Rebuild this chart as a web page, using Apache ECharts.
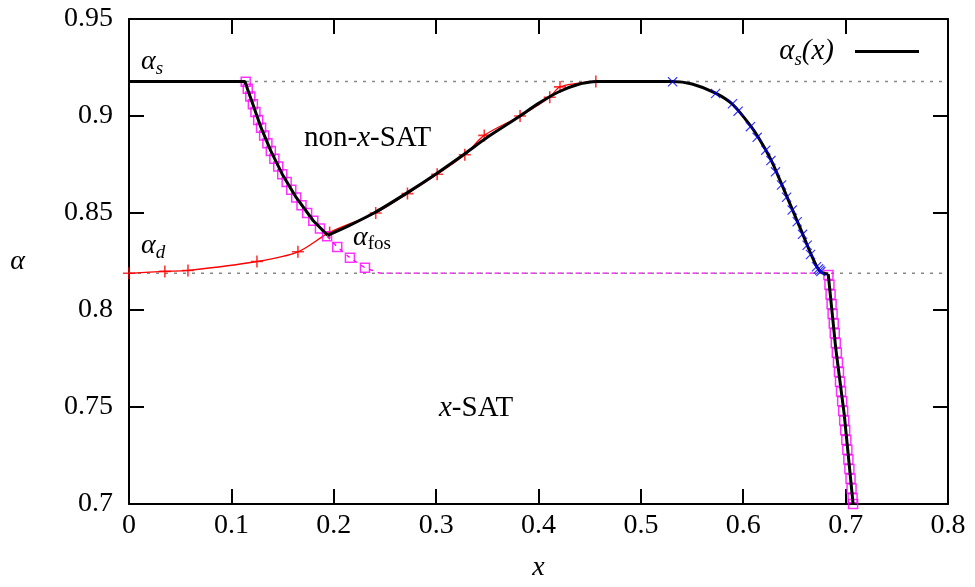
<!DOCTYPE html>
<html>
<head>
<meta charset="utf-8">
<script src="https://cdn.jsdelivr.net/npm/echarts@6/dist/echarts.min.js"></script>
<style>html,body{margin:0;padding:0;background:#fff}#c{width:975px;height:587px}</style>
</head>
<body>
<div id="c"></div>
<script>
// ---- data ----
const alphaS = 0.9178;   // alpha_s
const alphaD = 0.8189;   // alpha_d
const xTicks = [0, 0.1, 0.2, 0.3, 0.4, 0.5, 0.6, 0.7, 0.8];
const yTicks = [0.7, 0.75, 0.8, 0.85, 0.9, 0.95];

// alpha_s(x) black curve, in four pieces
const black1X = [0, 0.1133, 0.1160, 0.1210, 0.1290, 0.1385, 0.1497, 0.1633, 0.1800, 0.1940];
const black1Y = [0.9178, 0.9178, 0.9135, 0.9060, 0.8940, 0.8820, 0.8700, 0.8580, 0.8460, 0.8385];
const black2X = [0.1940, 0.215, 0.241, 0.272, 0.301, 0.328, 0.350, 0.382, 0.400, 0.420, 0.440, 0.456];
const black2Y = [0.8385, 0.8435, 0.8505, 0.8605, 0.8705, 0.8805, 0.8890, 0.9000, 0.9065, 0.9125, 0.9165, 0.9178];
const black3X = [0.456, 0.531, 0.550, 0.573, 0.590, 0.607, 0.617, 0.627, 0.637, 0.647, 0.657, 0.666, 0.672, 0.677, 0.683];
const black3Y = [0.9178, 0.9178, 0.9165, 0.9118, 0.9058, 0.8950, 0.8870, 0.8775, 0.8655, 0.8530, 0.8405, 0.8290, 0.8222, 0.8192, 0.8185];
const black4X = [0.683, 0.6904, 0.6986, 0.7073];
const black4Y = [0.8185, 0.7800, 0.7463, 0.7000];

// red curve (alpha_d branch) and its + markers
const redX = [0, 0.035, 0.0576, 0.125, 0.165, 0.196, 0.241, 0.272, 0.301, 0.328, 0.347, 0.382, 0.411, 0.421, 0.456];
const redY = [0.8189, 0.8199, 0.8204, 0.8250, 0.8300, 0.8400, 0.8500, 0.8600, 0.8700, 0.8800, 0.8900, 0.9000, 0.9097, 0.9150, 0.9178];

// blue x markers
const blueX = [0.531, 0.573, 0.5895, 0.595, 0.607, 0.6136, 0.622, 0.627, 0.6315, 0.6374, 0.6423, 0.6478, 0.6527, 0.6579, 0.6624, 0.6657, 0.6716, 0.6735, 0.6748, 0.6758];
const blueY = [0.9176, 0.9116, 0.9063, 0.9025, 0.8945, 0.8890, 0.8824, 0.8770, 0.8712, 0.8644, 0.8581, 0.8515, 0.8455, 0.8390, 0.8334, 0.8286, 0.8223, 0.8212, 0.8205, 0.8198];

// magenta squares (alpha_fos)
const sqX = [0.1140, 0.1160, 0.1185, 0.1210, 0.1235, 0.1262, 0.1290, 0.1320, 0.1352, 0.1385, 0.1420, 0.1458, 0.1497, 0.1540, 0.1585, 0.1633, 0.1685, 0.1740, 0.1800, 0.1865, 0.1935, 0.2034, 0.2158, 0.2305,
  0.6832, 0.6842, 0.6853, 0.6863, 0.6873, 0.6884, 0.6894, 0.6904, 0.6914, 0.6925, 0.6935, 0.6945, 0.6955, 0.6966, 0.6976, 0.6986, 0.6996, 0.7007, 0.7017, 0.7027, 0.7037, 0.7048, 0.7058, 0.7068, 0.7073];
const sqY = [0.9177, 0.9140, 0.9100, 0.9060, 0.9020, 0.8980, 0.8940, 0.8900, 0.8860, 0.8820, 0.8780, 0.8740, 0.8700, 0.8660, 0.8620, 0.8580, 0.8540, 0.8500, 0.8460, 0.8420, 0.8380, 0.8325, 0.8269, 0.8218,
  0.8180, 0.8130, 0.8080, 0.8030, 0.7980, 0.7930, 0.7880, 0.7830, 0.7780, 0.7730, 0.7680, 0.7630, 0.7580, 0.7530, 0.7480, 0.7430, 0.7380, 0.7330, 0.7280, 0.7230, 0.7180, 0.7130, 0.7080, 0.7030, 0.7000];
// magenta dashed connector
const fosLineX = [0.1935, 0.2034, 0.2158, 0.2305, 0.2450, 0.6800, 0.6832];
const fosLineY = [0.8380, 0.8325, 0.8269, 0.8218, 0.8190, 0.8190, 0.8180];

// ---- chart ----
const zip = (a, b) => a.map((v, i) => [v, b[i]]);
const plus = 'path://M4.35,0H5.65V10H4.35Z M0,4.35H10V5.65H0Z';
const cross = 'path://M0,0.8L0.8,0L10,9.2L9.2,10Z M9.2,0L10,0.8L0.8,10L0,9.2Z';
const fmt = v => String(Math.round(v * 100) / 100);
const F = 'Liberation Serif';

const chart = echarts.init(document.getElementById('c'), null, {renderer: 'canvas'});
const axisLine = {show: true, onZero: false, lineStyle: {color: '#000', width: 2}};
const axisTick = {show: true, inside: true, length: 15, lineStyle: {color: '#000', width: 2}};
const blackSeries = (xs, ys, smooth) => ({
  name: 'alphas', type: 'line', data: zip(xs, ys), symbol: 'none', smooth: smooth, z: 5,
  itemStyle: {color: '#000'}, lineStyle: {color: '#000', width: 3}
});
chart.setOption({
  animation: false,
  backgroundColor: '#fff',
  grid: {left: 129, right: 27, top: 19, bottom: 80, containLabel: false},
  xAxis: [
    {type: 'value', min: xTicks[0], max: xTicks[xTicks.length - 1], interval: 0.1, position: 'bottom',
     axisLine, axisTick, splitLine: {show: false},
     axisLabel: {formatter: fmt, color: '#000', fontFamily: F, fontSize: 28, margin: 8},
     name: 'x', nameLocation: 'middle', nameGap: 50,
     nameTextStyle: {fontFamily: F, fontStyle: 'italic', fontSize: 28, color: '#000'}},
    {type: 'value', min: xTicks[0], max: xTicks[xTicks.length - 1], interval: 0.1, position: 'top',
     axisLine, axisTick, axisLabel: {show: false}, splitLine: {show: false}}
  ],
  yAxis: [
    {type: 'value', min: yTicks[0], max: yTicks[yTicks.length - 1], interval: 0.05, position: 'left',
     axisLine, axisTick, splitLine: {show: false},
     axisLabel: {formatter: fmt, color: '#000', fontFamily: F, fontSize: 28, margin: 16},
     name: 'α', nameLocation: 'middle', nameGap: 104, nameRotate: 0,
     nameTextStyle: {fontFamily: F, fontStyle: 'italic', fontSize: 28, color: '#000', padding: [0, 0, 10, 0]}},
    {type: 'value', min: yTicks[0], max: yTicks[yTicks.length - 1], interval: 0.05, position: 'right',
     axisLine, axisTick, axisLabel: {show: false}, splitLine: {show: false}}
  ],
  legend: {
    right: 51, top: 32, align: 'right', itemWidth: 64, itemHeight: 3, itemGap: 0,
    data: [{name: 'alphas', icon: 'path://M0,0H64V3H0Z'}],
    itemStyle: {color: '#000'},
    formatter: () => '{a|α}{s|s}{p|(x)}',
    textStyle: {color: '#000', padding: [0, 16, 0, 0], rich: {
      a: {fontFamily: F, fontStyle: 'italic', fontSize: 29, color: '#000'},
      s: {fontFamily: F, fontStyle: 'italic', fontSize: 19, color: '#000', verticalAlign: 'bottom', padding: [16, 0, 0, 0]},
      p: {fontFamily: F, fontStyle: 'italic', fontSize: 29, color: '#000'}
    }}
  },
  series: [
    {type: 'line', data: [[0, alphaS], [0.8, alphaS]], symbol: 'none', silent: true, z: 1,
     lineStyle: {color: '#888', width: 1.5, type: [3, 6]}},
    {type: 'line', data: [[0, alphaD], [0.8, alphaD]], symbol: 'none', silent: true, z: 1,
     lineStyle: {color: '#888', width: 1.5, type: [3, 6]}},
    {type: 'line', data: zip(redX, redY), symbol: 'none', smooth: 0.3, z: 2,
     lineStyle: {color: '#ff0000', width: 1.3}},
    {type: 'scatter', data: zip(redX, redY), symbol: plus, symbolSize: 12, z: 3,
     itemStyle: {color: '#ff0000'}},
    {type: 'line', data: zip(fosLineX, fosLineY), symbol: 'none', z: 3,
     lineStyle: {color: '#ff00ff', width: 1.3, type: [4, 5]}},
    {type: 'scatter', data: zip(sqX, sqY), symbol: 'rect', symbolSize: 9, z: 4,
     itemStyle: {color: 'rgba(255,255,255,0)', borderColor: '#ff00ff', borderWidth: 1.5}},
    blackSeries(black1X, black1Y, false),
    blackSeries(black2X, black2Y, 0.3),
    blackSeries(black3X, black3Y, 0.25),
    blackSeries(black4X, black4Y, false),
    {type: 'scatter', data: zip(blueX, blueY), symbol: cross, symbolSize: 10, z: 6,
     itemStyle: {color: '#0000ff'}}
  ],
  graphic: [
    {type: 'text', left: 141, top: 48, z: 10, style: {text: '{a|α}{s|s}', rich: {
      a: {fontFamily: F, fontStyle: 'italic', fontSize: 28, fill: '#000'},
      s: {fontFamily: F, fontStyle: 'italic', fontSize: 19, fill: '#000', verticalAlign: 'bottom', padding: [14, 0, 0, 0]}}}},
    {type: 'text', left: 141, top: 232, z: 10, style: {text: '{a|α}{s|d}', rich: {
      a: {fontFamily: F, fontStyle: 'italic', fontSize: 28, fill: '#000'},
      s: {fontFamily: F, fontStyle: 'italic', fontSize: 19, fill: '#000', verticalAlign: 'bottom', padding: [14, 0, 0, 0]}}}},
    {type: 'text', left: 353, top: 224, z: 10, style: {text: '{a|α}{s|fos}', rich: {
      a: {fontFamily: F, fontStyle: 'italic', fontSize: 28, fill: '#000'},
      s: {fontFamily: F, fontSize: 19, fill: '#000', verticalAlign: 'bottom', padding: [12, 0, 0, 0]}}}},
    {type: 'text', left: 304, top: 124, z: 10, style: {text: '{r|non-}{i|x}{r|-SAT}', rich: {
      r: {fontFamily: F, fontSize: 29, fill: '#000'},
      i: {fontFamily: F, fontStyle: 'italic', fontSize: 29, fill: '#000'}}}},
    {type: 'text', left: 439, top: 394, z: 10, style: {text: '{i|x}{r|-SAT}', rich: {
      r: {fontFamily: F, fontSize: 29, fill: '#000'},
      i: {fontFamily: F, fontStyle: 'italic', fontSize: 29, fill: '#000'}}}}
  ]
});
</script>
</body>
</html>
